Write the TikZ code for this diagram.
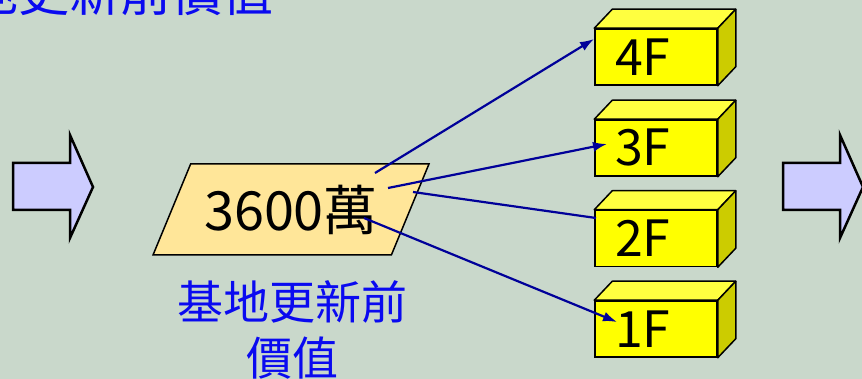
\documentclass[tikz,border=0pt]{standalone}
\usepackage{fontspec}
\setmainfont{Noto Sans CJK TC}
\usetikzlibrary{shapes.geometric, arrows.meta, calc}
\definecolor{slideGreen}{RGB}{201, 216, 203}
\definecolor{arrowLilac}{RGB}{204, 204, 255}
\definecolor{priceTan}{RGB}{255, 230, 153}
\definecolor{labelBlue}{RGB}{10, 10, 240}
\definecolor{linkNavy}{RGB}{0, 0, 153}
\definecolor{boxFront}{RGB}{255, 255, 0}
\definecolor{boxTop}{RGB}{255, 255, 64}
\definecolor{boxSide}{RGB}{204, 204, 0}

\begin{document}
\begin{tikzpicture}[
    x=1pt, y=-1pt,
    blockarrow/.style={
        fill=arrowLilac,
        draw=black,
        line width=2.5pt,
        line join=miter
    },
    pricetag/.style={
        trapezium,
        trapezium left angle=59,
        trapezium right angle=121,
        trapezium stretches=true,
        minimum width=276pt,
        minimum height=91pt,
        fill=priceTan,
        draw=black,
        line width=1.5pt,
        font=\fontsize{54}{58}\selectfont
    },
    floorbox/.style={
        rectangle,
        fill=boxFront,
        draw=black,
        line width=1.5pt,
        minimum height=56pt,
        text width=82pt,
        inner xsep=20pt,
        inner ysep=0pt,
        align=left,
        font=\fontsize{50}{55}\selectfont
    },
    face/.style={
        draw=black,
        line width=1.5pt,
        line join=round
    },
    bluelabel/.style={
        text=labelBlue,
        align=center
    },
    link/.style={
        draw=linkNavy,
        line width=2.2pt
    }
]

% Slide background
\fill[slideGreen] (0,0) rectangle (862,379);
\useasboundingbox (0,0) rectangle (862,379);
\clip (0,0) rectangle (862,379);

% Heading cut off at the top
\node[bluelabel, font=\fontsize{51}{56}\selectfont] (heading) at (95,-8) {基地更新前價值};

% Block arrows at both sides
\draw[blockarrow] (13,163) -- (70,163) -- (70,135) -- (93,187) -- (70,238) -- (70,210) -- (13,210) -- cycle;
\draw[blockarrow] (783,163) -- (840,163) -- (840,135) -- (863,187) -- (840,238) -- (840,210) -- (783,210) -- cycle;

% Value before renewal
\node[pricetag] (price) at (291,209.5) {3600萬};
\node[bluelabel, font=\fontsize{46}{56}\selectfont] (caption) at (292,330) {基地更新前\\價值};

% Floors
\node[floorbox] (f4) at (656,57) {4F};
\node[floorbox] (f3) at (656,148) {3F};
\node[floorbox] (f2) at (656,238.5) {2F};
\node[floorbox] (f1) at (656,329) {1F};

\foreach \f in {f1,f2,f3,f4} {
    \filldraw[face, fill=boxTop] (\f.north west) -- ++(18pt,19pt) -- ($(\f.north east)+(18pt,19pt)$) -- (\f.north east) -- cycle;
    \filldraw[face, fill=boxSide] (\f.north east) -- ++(18pt,19pt) -- ($(\f.south east)+(18pt,19pt)$) -- (\f.south east) -- cycle;
}

% Shares per floor
\coordinate (s4) at (375,173);
\coordinate (s3) at (388,188);
\coordinate (s2) at (413,192);
\coordinate (s1) at (364,218);
\coordinate (e4) at (594,39);
\coordinate (e3) at (607,144);
\coordinate (e2) at (596,218);
\coordinate (e1) at (617,322);

\draw[link, -{Latex[length=14pt,width=10pt]}] (s4) -- (e4);
\draw[link, -{Latex[length=14pt,width=10pt]}] (s3) -- (e3);
\draw[link] (s2) -- (e2);
\draw[link, -{Latex[length=14pt,width=10pt]}] (s1) -- (e1);

\end{tikzpicture}
\end{document}
